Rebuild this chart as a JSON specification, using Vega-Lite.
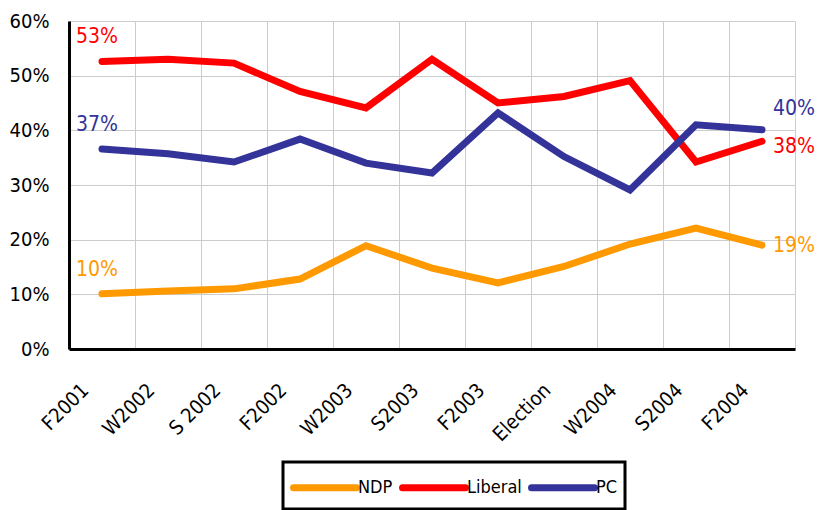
{
  "$schema": "https://vega.github.io/schema/vega-lite/v6.json",
  "width": 726,
  "height": 328,
  "autosize": {"type": "none"},
  "padding": {"left": 69, "top": 21, "right": 25, "bottom": 161},
  "background": "white",
  "config": {
    "font": "DejaVu Sans Condensed, Roboto, sans-serif",
    "view": {"stroke": null}
  },
  "data": {
    "values": [
      {"period": "F2001", "party": "NDP", "value": 0.101},
      {"period": "W2002", "party": "NDP", "value": 0.106},
      {"period": "S 2002", "party": "NDP", "value": 0.110},
      {"period": "F2002", "party": "NDP", "value": 0.128},
      {"period": "W2003", "party": "NDP", "value": 0.189},
      {"period": "S2003", "party": "NDP", "value": 0.148},
      {"period": "F2003", "party": "NDP", "value": 0.121},
      {"period": "Election", "party": "NDP", "value": 0.151},
      {"period": "W2004", "party": "NDP", "value": 0.192},
      {"period": "S2004", "party": "NDP", "value": 0.221},
      {"period": "F2004", "party": "NDP", "value": 0.190},
      {"period": "F2001", "party": "Liberal", "value": 0.526},
      {"period": "W2002", "party": "Liberal", "value": 0.530},
      {"period": "S 2002", "party": "Liberal", "value": 0.523},
      {"period": "F2002", "party": "Liberal", "value": 0.471},
      {"period": "W2003", "party": "Liberal", "value": 0.441},
      {"period": "S2003", "party": "Liberal", "value": 0.530},
      {"period": "F2003", "party": "Liberal", "value": 0.450},
      {"period": "Election", "party": "Liberal", "value": 0.462},
      {"period": "W2004", "party": "Liberal", "value": 0.491},
      {"period": "S2004", "party": "Liberal", "value": 0.342},
      {"period": "F2004", "party": "Liberal", "value": 0.380},
      {"period": "F2001", "party": "PC", "value": 0.366},
      {"period": "W2002", "party": "PC", "value": 0.357},
      {"period": "S 2002", "party": "PC", "value": 0.342},
      {"period": "F2002", "party": "PC", "value": 0.384},
      {"period": "W2003", "party": "PC", "value": 0.340},
      {"period": "S2003", "party": "PC", "value": 0.322},
      {"period": "F2003", "party": "PC", "value": 0.432},
      {"period": "Election", "party": "PC", "value": 0.352},
      {"period": "W2004", "party": "PC", "value": 0.291},
      {"period": "S2004", "party": "PC", "value": 0.410},
      {"period": "F2004", "party": "PC", "value": 0.401}
    ]
  },
  "encoding": {
    "x": {
      "field": "period",
      "type": "nominal",
      "sort": null,
      "scale": {"type": "band", "paddingInner": 0, "paddingOuter": 0},
      "axis": {
        "title": null,
        "tickBand": "extent",
        "ticks": false,
        "domainColor": "#000000",
        "domainWidth": 3,
        "grid": true,
        "gridColor": "#cccccc",
        "gridWidth": 1,
        "labelAngle": -45,
        "labelAlign": "right",
        "labelBaseline": "middle",
        "labelPadding": 38,
        "labelOffset": -17,
        "labelFontSize": 20,
        "labelColor": "#000000"
      }
    },
    "y": {
      "field": "value",
      "type": "quantitative",
      "scale": {"domain": [0, 0.6], "nice": false, "zero": true},
      "axis": {
        "title": null,
        "values": [0, 0.1, 0.2, 0.3, 0.4, 0.5, 0.6],
        "format": ".0%",
        "ticks": false,
        "domainColor": "#000000",
        "domainWidth": 3,
        "grid": true,
        "gridColor": "#cccccc",
        "gridWidth": 1,
        "labelPadding": 20,
        "labelFontSize": 20,
        "labelColor": "#000000"
      }
    },
    "color": {
      "field": "party",
      "type": "nominal",
      "scale": {"domain": ["NDP", "Liberal", "PC"], "range": ["#FF9900", "#FF0000", "#333399"]}
    }
  },
  "layer": [
    {
      "mark": {"type": "line", "strokeWidth": 7, "strokeCap": "round"},
      "encoding": {
        "color": {
          "field": "party",
          "type": "nominal",
          "scale": {"domain": ["NDP", "Liberal", "PC"], "range": ["#FF9900", "#FF0000", "#333399"]},
          "legend": {
            "title": null,
            "orient": "none",
            "legendX": 214,
            "legendY": 441,
            "direction": "horizontal",
            "columns": 3,
            "symbolType": "M-1,0L3.2,0",
            "symbolSize": 900,
            "symbolStrokeWidth": 7,
            "labelFontSize": 18,
            "labelColor": "#000000",
            "labelOffset": 31,
            "columnPadding": -5,
            "padding": 7,
            "strokeColor": "#000000",
            "fillColor": "#ffffff",
            "encode": {
              "legend": {"update": {"strokeWidth": {"value": 3}}},
              "symbols": {"update": {"strokeCap": {"value": "round"}}}
            }
          }
        }
      }
    },
    {
      "transform": [{"filter": "datum.period === 'F2001'"}],
      "mark": {"type": "text", "fontSize": 21, "dx": -5, "dy": -24, "align": "center", "baseline": "middle"},
      "encoding": {
        "text": {"field": "value", "type": "quantitative", "format": ".0%"},
        "color": {"field": "party", "type": "nominal", "legend": null}
      }
    },
    {
      "transform": [{"filter": "datum.period === 'F2004' && datum.party === 'PC'"}],
      "mark": {"type": "text", "fontSize": 21, "dx": 11, "dy": -21, "align": "left", "baseline": "middle"},
      "encoding": {
        "text": {"field": "value", "type": "quantitative", "format": ".0%"},
        "color": {"field": "party", "type": "nominal", "legend": null}
      }
    },
    {
      "transform": [{"filter": "datum.period === 'F2004' && datum.party === 'Liberal'"}],
      "mark": {"type": "text", "fontSize": 21, "dx": 11, "dy": 6, "align": "left", "baseline": "middle"},
      "encoding": {
        "text": {"field": "value", "type": "quantitative", "format": ".0%"},
        "color": {"field": "party", "type": "nominal", "legend": null}
      }
    },
    {
      "transform": [{"filter": "datum.period === 'F2004' && datum.party === 'NDP'"}],
      "mark": {"type": "text", "fontSize": 21, "dx": 11, "dy": 1, "align": "left", "baseline": "middle"},
      "encoding": {
        "text": {"field": "value", "type": "quantitative", "format": ".0%"},
        "color": {"field": "party", "type": "nominal", "legend": null}
      }
    }
  ]
}
